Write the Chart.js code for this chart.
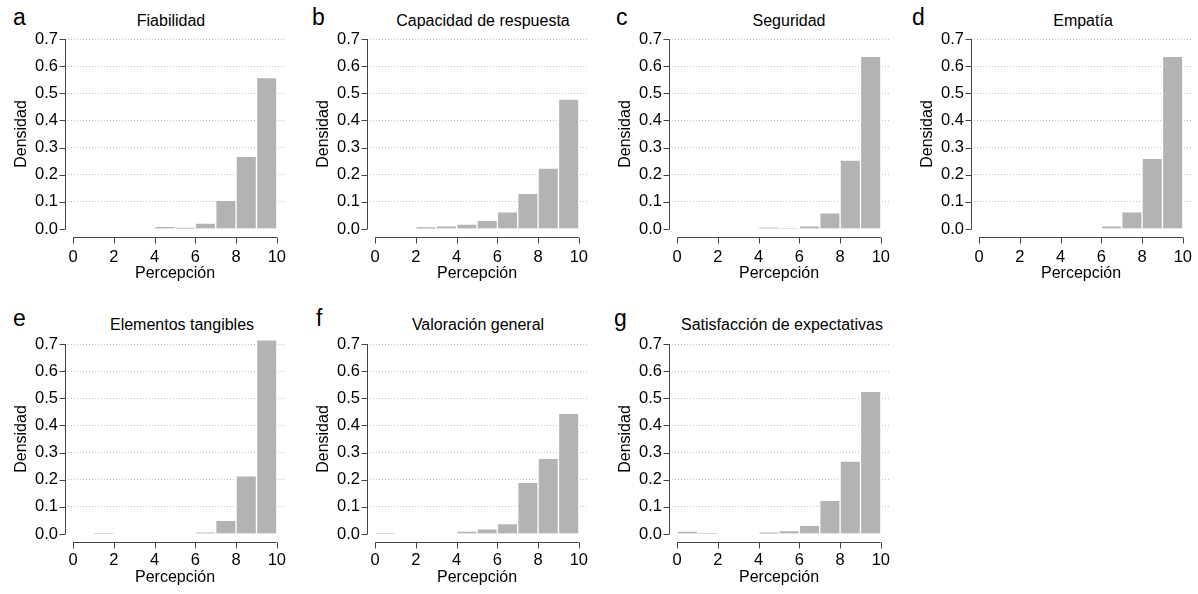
<!DOCTYPE html>
<html lang="es">
<head>
<meta charset="utf-8">
<title>Densidad de la percepción</title>
<script src="https://cdn.jsdelivr.net/npm/chart.js@4"></script>
<style>
  body { margin: 0; background: #fff; width: 1198px; height: 594px; position: relative; overflow: hidden;
         font-family: "Liberation Sans", Arial, sans-serif; color: #000; }
  .panel { position: absolute; width: 300px; }
  .letter { position: absolute; font-size: 23px; line-height: 23px; }
  .title { position: absolute; width: 300px; text-align: center; font-size: 16px; line-height: 16px; white-space: nowrap; }
</style>
</head>
<body>
<script>
// bin centres of the histograms (bins 0-1, 1-2, ... 9-10)
const bins = [0.5, 1.5, 2.5, 3.5, 4.5, 5.5, 6.5, 7.5, 8.5, 9.5];
const yTicks = [0, 0.1, 0.2, 0.3, 0.4, 0.5, 0.6, 0.7];
const xTicks = [0, 2, 4, 6, 8, 10];

const letters = ["a", "b", "c", "d", "e", "f", "g"];
const titles = ["Fiabilidad", "Capacidad de respuesta", "Seguridad", "Empatía",
                "Elementos tangibles", "Valoración general", "Satisfacción de expectativas"];

const fiabilidad   = [0, 0, 0, 0, 0.010, 0.005, 0.022, 0.106, 0.268, 0.558];
const capacidad    = [0, 0, 0.009, 0.012, 0.018, 0.032, 0.063, 0.131, 0.224, 0.479];
const seguridad    = [0, 0, 0, 0, 0.006, 0.004, 0.012, 0.060, 0.254, 0.636];
const empatia      = [0, 0, 0, 0, 0, 0, 0.012, 0.063, 0.260, 0.636];
const tangibles    = [0, 0.003, 0, 0, 0, 0, 0.006, 0.050, 0.214, 0.715];
const valoracion   = [0.003, 0, 0, 0, 0.011, 0.019, 0.038, 0.190, 0.279, 0.445];
const satisfaccion = [0.011, 0.003, 0, 0, 0.007, 0.013, 0.032, 0.124, 0.269, 0.526];
const series = [fiabilidad, capacidad, seguridad, empatia, tangibles, valoracion, satisfaccion];

// where each panel sits on the page
const cells = [
  { left: 0,   top: 0,     tx: 171, ty: 13.2,  lx: 13,  ly: 5.5,   pad: 2.5, xh: 46.5 },
  { left: 302, top: 0,     tx: 483, ty: 13.2,  lx: 312, ly: 5.5,   pad: 2.5, xh: 46.5 },
  { left: 604, top: 0,     tx: 789, ty: 13.2,  lx: 616, ly: 5.5,   pad: 2.5, xh: 46.5 },
  { left: 906, top: 0,     tx: 1083, ty: 13.2, lx: 912, ly: 5.5,   pad: 2.5, xh: 46.5 },
  { left: 0,   top: 304.5, tx: 182, ty: 317.3, lx: 13,  ly: 306.5, pad: 1,   xh: 46 },
  { left: 302, top: 304.5, tx: 478, ty: 317.3, lx: 316, ly: 306.5, pad: 1,   xh: 46 },
  { left: 604, top: 304.5, tx: 782, ty: 317.3, lx: 614, ly: 306.5, pad: 1,   xh: 46 }
];

Chart.defaults.font.family = '"Liberation Sans", Arial, sans-serif';
Chart.defaults.color = "#000";

// R style axes: lines only over the tick range, ticks outside
const rAxes = {
  id: "rAxes",
  afterDraw(chart) {
    const { ctx, chartArea: a, scales: { x, y } } = chart;
    const lx = Math.round(a.left) + 0.5;
    const by = Math.round(a.bottom) + 0.5;
    ctx.save();
    ctx.strokeStyle = "#444";
    ctx.lineWidth = 1;
    ctx.beginPath();
    ctx.moveTo(lx, y.getPixelForValue(yTicks[0]));
    ctx.lineTo(lx, y.getPixelForValue(yTicks[yTicks.length - 1]));
    yTicks.forEach(v => {
      const p = Math.round(y.getPixelForValue(v)) + 0.5;
      ctx.moveTo(lx - 6, p); ctx.lineTo(lx, p);
    });
    ctx.moveTo(x.getPixelForValue(xTicks[0]), by);
    ctx.lineTo(x.getPixelForValue(xTicks[xTicks.length - 1]), by);
    xTicks.forEach(v => {
      const p = Math.round(x.getPixelForValue(v)) + 0.5;
      ctx.moveTo(p, by); ctx.lineTo(p, by + 6);
    });
    ctx.stroke();
    ctx.restore();
  }
};

series.forEach((vals, i) => {
  const c = cells[i];

  const letter = document.createElement("div");
  letter.className = "letter";
  letter.style.left = c.lx + "px";
  letter.style.top = c.ly + "px";
  letter.textContent = letters[i];
  document.body.appendChild(letter);

  const title = document.createElement("div");
  title.className = "title";
  title.style.left = (c.tx - 150) + "px";
  title.style.top = c.ty + "px";
  title.textContent = titles[i];
  document.body.appendChild(title);

  const box = document.createElement("div");
  box.className = "panel";
  box.style.left = c.left + "px";
  box.style.top = c.top + "px";
  box.style.height = (31.4 + 205.2 + c.xh) + "px";
  const cv = document.createElement("canvas");
  box.appendChild(cv);
  document.body.appendChild(box);

  new Chart(cv, {
    type: "bar",
    data: {
      datasets: [{
        data: bins.map((b, k) => ({ x: b, y: vals[k] })),
        backgroundColor: "#b3b3b3",
        borderColor: "#fff",
        borderWidth: 1,
        barPercentage: 1,
        categoryPercentage: 1
      }]
    },
    options: {
      responsive: true,
      maintainAspectRatio: false,
      animation: false,
      layout: { padding: { left: 0, top: 31.4, right: 15, bottom: 0 } },
      plugins: { legend: { display: false }, title: { display: false }, tooltip: { enabled: false } },
      scales: {
        x: {
          type: "linear",
          min: -0.4,
          max: 10.4,
          offset: false,
          grid: { display: false },
          border: { display: false },
          afterBuildTicks: s => { s.ticks = xTicks.map(v => ({ value: v })); },
          afterFit: s => { s.height = c.xh; },
          ticks: { autoSkip: false, maxRotation: 0, padding: c.pad, font: { size: 16.5 } },
          title: { display: true, text: "Percepción", font: { size: 16 }, padding: { top: 0, bottom: 0 } }
        },
        y: {
          min: -0.028,
          max: 0.728,
          grid: {
            drawTicks: false,
            color: ctx => (ctx.tick && ctx.tick.value === 0 ? "rgba(0,0,0,0)" : "#bdbdbd"),
            lineWidth: 1
          },
          border: { display: false, dash: [1, 2] },
          afterBuildTicks: s => { s.ticks = yTicks.map(v => ({ value: v })); },
          afterFit: s => { s.width = 65; },
          ticks: { autoSkip: false, padding: 7, font: { size: 16.5 }, callback: v => v.toFixed(1) },
          title: { display: true, text: "Densidad", font: { size: 16 }, padding: { top: 12, bottom: 0 } }
        }
      }
    },
    plugins: [rAxes]
  });
});
</script>
</body>
</html>
